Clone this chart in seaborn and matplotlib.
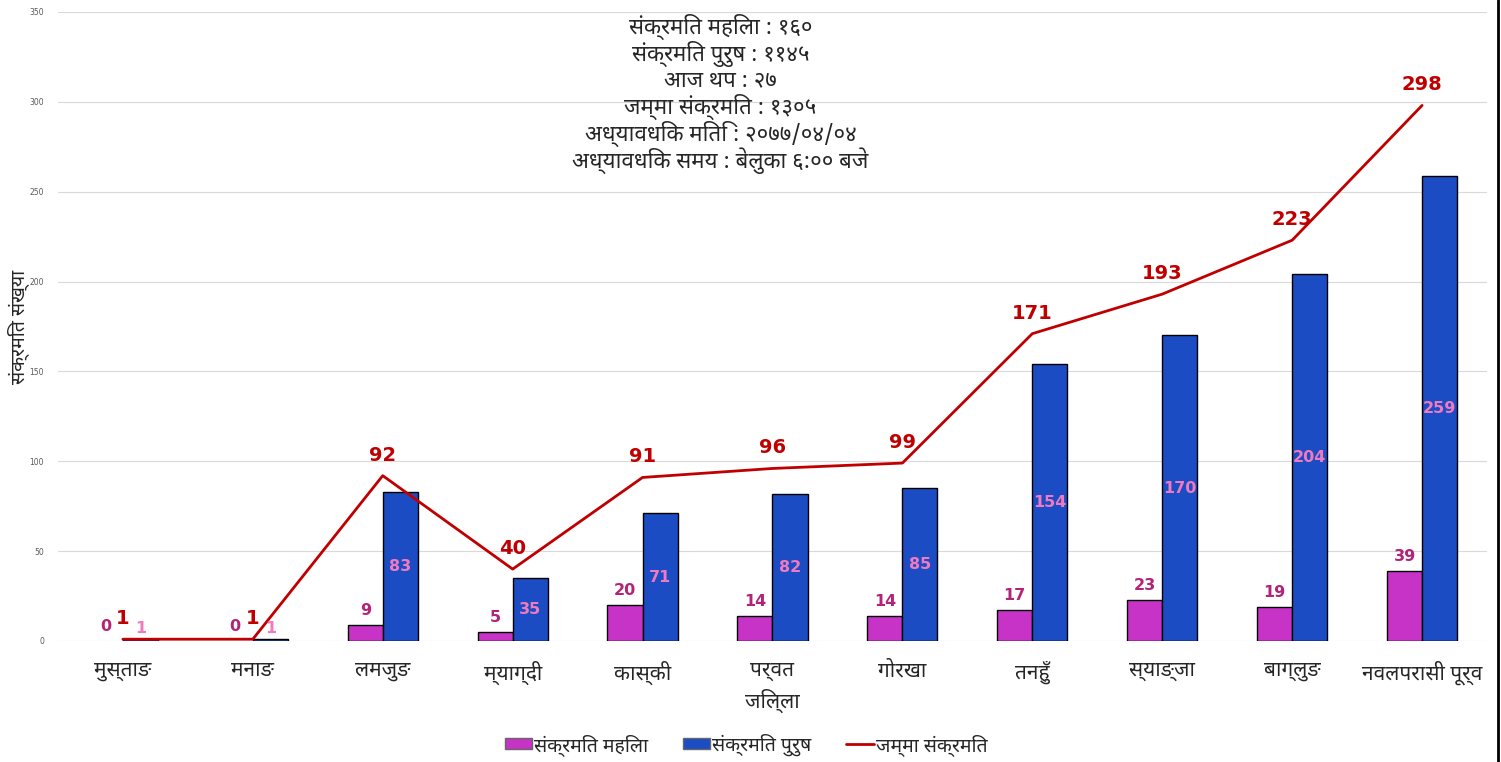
import matplotlib
matplotlib.use("Agg")
import matplotlib.pyplot as plt
from matplotlib.patches import Patch
from matplotlib.lines import Line2D
import seaborn as sns
import pandas as pd

districts = ["मुस्ताङ", "मनाङ", "लमजुङ", "म्याग्दी", "कास्की", "पर्वत",
             "गोरखा", "तनहुँ", "स्याङ्जा", "बाग्लुङ", "नवलपरासी पूर्व"]
female = [0, 0, 9, 5, 20, 14, 14, 17, 23, 19, 39]
male = [1, 1, 83, 35, 71, 82, 85, 154, 170, 204, 259]
total = [1, 1, 92, 40, 91, 96, 99, 171, 193, 223, 298]

label_female = "संक्रमित महिला"
label_male = "संक्रमित पुरुष"
label_total = "जम्मा संक्रमित"
summary = ["संक्रमित महिला : १६०",
           "संक्रमित पुरुष : ११४५",
           "आज थप : २७",
           "जम्मा संक्रमित : १३०५",
           "अध्यावधिक मिति : २०७७/०४/०४",
           "अध्यावधिक समय : बेलुका ६:०० बजे"]
yticks = [0, 50, 100, 150, 200, 250, 300, 350]

pink = "#C733C7"
blue = "#1C4CC4"
red = "#C00000"

sns.set_style("white")
plt.rcParams["font.family"] = ["Noto Sans Devanagari", "DejaVu Sans"]

df = pd.DataFrame({"district": districts * 2,
                   "count": female + male,
                   "sex": [label_female] * len(districts) + [label_male] * len(districts)})

fig = plt.figure(figsize=(15.01, 7.62), dpi=100)
ax = fig.add_axes([0.0386, 0.1588, 0.9521, 0.8255])

sns.barplot(data=df, x="district", y="count", hue="sex", order=districts,
            palette={label_female: pink, label_male: blue}, width=0.54,
            saturation=1, edgecolor="black", linewidth=1, ax=ax, zorder=2, legend=False)
for p in ax.patches:
    if p.get_height() == 0:
        p.set_linewidth(0)
sns.lineplot(x=districts, y=total, sort=False, color=red, linewidth=2, ax=ax, zorder=3,
             legend=False)

n = len(districts)
for i in range(n):
    ax.annotate(str(female[i]), (i - 0.135, female[i]), xytext=(0, 5),
                textcoords="offset points", ha="center", va="bottom",
                color="#B3237A", fontsize=11.5, fontweight="bold", family="DejaVu Sans")
    ax.text(i + 0.135, max(male[i] / 2, 7), str(male[i]), ha="center", va="center",
            color="#F07ABE", fontsize=11.5, fontweight="bold", family="DejaVu Sans")
    ax.annotate(str(total[i]), (i, total[i]), xytext=(0, 8),
                textcoords="offset points", ha="center", va="bottom",
                color=red, fontsize=14, fontweight="bold", family="DejaVu Sans")

ax.set_xlim(-0.5, n - 0.5)
ax.set_ylim(0, 350)
ax.set_yticks(yticks)
ax.set_yticklabels([str(t) for t in yticks], family="DejaVu Sans")
ax.grid(axis="y", color="#D9D9D9", linewidth=0.8)
ax.set_axisbelow(True)
sns.despine(ax=ax, left=True, bottom=True, right=True, top=True)
ax.tick_params(axis="y", length=0, labelsize=5.5, labelcolor="#595959", pad=10)
ax.tick_params(axis="x", length=0, labelsize=15, pad=14)
ax.set_xlabel("जिल्ला", fontsize=15, labelpad=3)
ax.set_ylabel("संक्रमित संख्या", fontsize=14, labelpad=0)

for k, line in enumerate(summary):
    fig.text(0.48, 1 - (27 + 26.8 * k) / 762, line, ha="center", va="center", fontsize=16)

handles = [Patch(facecolor=pink, edgecolor="#666666"),
           Patch(facecolor=blue, edgecolor="#666666"),
           Line2D([], [], color=red, linewidth=2)]
fig.legend(handles, [label_female, label_male, label_total], loc="lower center",
           bbox_to_anchor=(0.497, -0.015), ncol=3, frameon=False, fontsize=14,
           handlelength=1.4, handleheight=0.5, handletextpad=0.1, columnspacing=1.8)

fig.add_artist(Line2D([0.998, 0.998], [0, 1], color="black", linewidth=2))

fig.savefig("out.png", dpi=100)
